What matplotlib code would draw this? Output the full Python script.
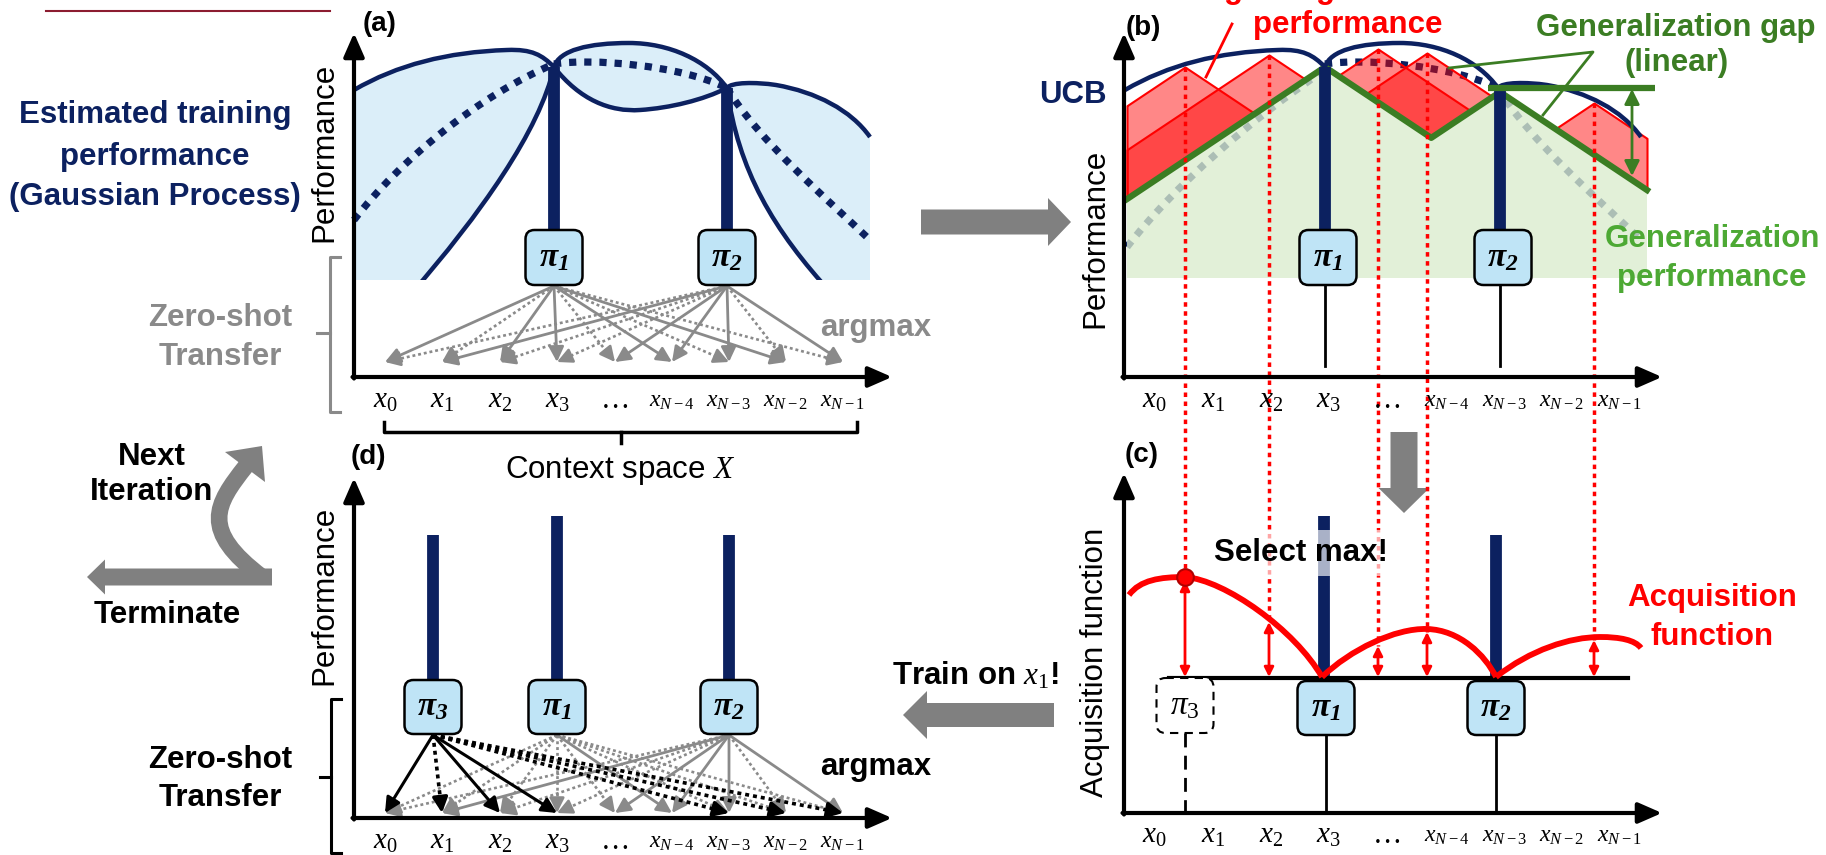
import numpy as np
import matplotlib
matplotlib.use("Agg")
import matplotlib.pyplot as plt
from matplotlib.path import Path
from matplotlib.patches import PathPatch, FancyBboxPatch, Rectangle, Polygon

plt.rcParams['font.family'] = ['Liberation Sans', 'DejaVu Sans']
plt.rcParams['mathtext.fontset'] = 'custom'
plt.rcParams['mathtext.rm'] = 'Liberation Serif'
plt.rcParams['mathtext.it'] = 'Liberation Serif:italic'
plt.rcParams['mathtext.bf'] = 'Liberation Serif:bold:italic'

NAVY = '#0c2160'
BLUEFILL = '#dbeef9'
BOXC = '#bfe4f6'
GRAY = '#8a8a8a'
BIGGRAY = '#808080'
GREEN = '#3b7d23'
LGREEN = '#4da934'
RED = '#ff0000'
FS = 22.5

# ---- data (pixel units of the 1826x855 canvas) ----
ctx_labels = [r'$x_0$', r'$x_1$', r'$x_2$', r'$x_3$', '…',
              r'$x_{N-4}$', r'$x_{N-3}$', r'$x_{N-2}$', r'$x_{N-1}$']
ctx_x_left = [385, 442, 500, 557, 615, 672, 729, 786, 843]
ctx_x_right = [1154, 1213, 1271, 1328, 1387, 1447, 1505, 1562, 1620]

# GP of panel (a): upper bound, lower bound and mean (bezier control points)
ucb_1 = [(354, 90), (397, 65), (447, 52), (507, 50), (532, 49), (542, 55), (554, 67)]
ucb_2 = [(554, 67), (559, 50), (589, 43), (629, 43), (669, 43), (707, 60), (727, 88)]
ucb_3 = [(727, 88), (731, 82), (756, 82), (776, 85), (816, 92), (851, 110), (870, 137)]
lcb_1 = [(554, 67), (540, 130), (480, 215), (410, 295)]
lcb_2 = [(554, 67), (580, 100), (610, 112), (640, 110), (670, 108), (703, 100), (727, 88)]
lcb_3 = [(727, 88), (738, 170), (773, 230), (833, 295)]
mean_1 = [(354, 220), (400, 160), (480, 95), (554, 64)]
mean_2 = [(554, 64), (590, 58), (680, 65), (727, 88)]
mean_3 = [(727, 88), (758, 140), (828, 200), (870, 240)]
mean_1b = [(1127, 247), (1175, 185), (1250, 120), (1325, 70)]
b_shift = 771

pi_x_a = [554, 727]
pi_top_a = [67, 88]
solid_a = [[0, 2, 3, 5, 7], [1, 4, 5, 6, 8]]
dotted_a = [[1, 4, 6, 8], [0, 2, 3, 7]]

# panel (b): generalization lower bound and estimated cones
gen_peaks_x = [1325, 1500]
gen_peaks_y = [67, 92]
lip = 0.667
cone_x = [1185, 1269, 1378, 1427, 1594]
cone_y = [67, 55, 49, 53, 103]

# panel (c): acquisition function
acq_1 = [(1129, 595), (1140, 580), (1160, 577), (1185, 577), (1225, 580), (1295, 630), (1322, 677)]
acq_2 = [(1322, 677), (1350, 650), (1395, 628), (1427, 629), (1460, 630), (1485, 655), (1496, 677)]
acq_3 = [(1496, 677), (1530, 650), (1570, 637), (1600, 637), (1620, 637), (1635, 640), (1641, 648)]
acq_at = [581, 622, 646, 632, 640]
acq_base = 678

# panel (d)
pi_x_d = [433, 557, 729]
pi_top_d = [535, 516, 535]
pi_name_d = ['3', '1', '2']
black_solid_d = [0, 2, 3]
black_dotted_d = [1, 6, 7, 8]
gray_solid_d = [[5], [1, 4, 5, 6, 8]]
gray_dotted_d = [[0, 1, 2, 3, 4, 6, 7, 8], [0, 2, 3, 7]]

fig = plt.figure(figsize=(18.26, 8.55), dpi=100)
ax = fig.add_axes([0, 0, 1, 1])
ax.set_xlim(0, 1826)
ax.set_ylim(855, 0)
ax.axis('off')


def chain(pts, dx=0):
    p = np.array(pts, float) + [dx, 0]
    return Path(p, [Path.MOVETO] + [Path.CURVE4] * (len(p) - 1))


def curve(pts, dx=0, **kw):
    patch = PathPatch(chain(pts, dx), fill=False, **kw)
    ax.add_patch(patch)
    return patch


def region(parts, dx=0):
    verts, codes = [], []
    for kind, pts in parts:
        for i, p in enumerate(pts):
            if not verts:
                codes.append(Path.MOVETO)
            elif kind == 'c' and i > 0:
                codes.append(Path.CURVE4)
            else:
                codes.append(Path.LINETO)
            verts.append((p[0] + dx, p[1]))
    verts.append(verts[0])
    codes.append(Path.CLOSEPOLY)
    return Path(verts, codes)


def axis_arrows(x0, y0, ytop, xright):
    st = dict(arrowstyle='-|>,head_length=0.8,head_width=0.35', color='k', lw=3,
              mutation_scale=18, shrinkA=0, shrinkB=0)
    ax.annotate('', xy=(x0, ytop), xytext=(x0, y0 + 1.5), arrowprops=st, zorder=8)
    ax.annotate('', xy=(xright, y0), xytext=(x0 - 1.5, y0), arrowprops=st, zorder=8)


def transfer(x0, y0, x1, y1, color, lw, dotted, z=5):
    d = np.array([x1 - x0, y1 - y0], float)
    d /= np.hypot(*d)
    st = dict(arrowstyle='-|>,head_length=0.5,head_width=0.25', color=color, lw=lw,
              mutation_scale=18, shrinkA=0, shrinkB=0)
    if dotted:
        bx, by = x1 - d[0] * 10, y1 - d[1] * 10
        ax.plot([x0, bx], [y0, by], color=color, lw=lw, ls=(0, (1.1, 1.1)), zorder=z)
        ax.annotate('', xy=(x1, y1), xytext=(bx - d[0] * 2, by - d[1] * 2), arrowprops=st, zorder=z)
    else:
        ax.annotate('', xy=(x1, y1), xytext=(x0, y0), arrowprops=st, zorder=z)


def box(xc, top, name, dashed=False, h=55):
    if dashed:
        b = FancyBboxPatch((xc - 28.5, top), 57, h, boxstyle='round,pad=0,rounding_size=9',
                           fc='white', ec='k', lw=1.5, ls=(0, (4, 3)), zorder=7)
        ax.add_patch(b)
        ax.text(xc, top + h / 2, r'$\pi_%s$' % name, ha='center', va='center', fontsize=24, zorder=8)
    else:
        b = FancyBboxPatch((xc - 28.5, top), 57, h, boxstyle='round,pad=0,rounding_size=9',
                           fc=BOXC, ec='k', lw=1.8, zorder=7)
        ax.add_patch(b)
        ax.text(xc, top + h / 2, r'$\mathbf{\pi_%s}$' % name, ha='center', va='center', fontsize=24, zorder=8)


def ctx_ticks(xs, y):
    for x, lab in zip(xs, ctx_labels):
        small = 'N' in lab
        ax.text(x, y, lab, ha='center', va='center', fontsize=17 if small else 21,
                family='Liberation Serif', zorder=8)


# ================= panel (a) =================
clip_a = Rectangle((354, 0), 520, 280, transform=ax.transData)
for path in [region([('c', ucb_1), ('c', lcb_1), ('l', [(354, 295)])]),
             region([('c', ucb_2), ('c', lcb_2[::-1])]),
             region([('c', ucb_3), ('l', [(870, 295), (833, 295)]), ('c', lcb_3[::-1])])]:
    p = PathPatch(path, fc=BLUEFILL, ec='none', zorder=1)
    ax.add_patch(p)
    p.set_clip_path(clip_a)
for m in [mean_1, mean_2, mean_3]:
    curve(m, color=NAVY, lw=5.2, ls=(0, (1.0, 1.1)), zorder=3)
for c in [ucb_1, ucb_2, ucb_3]:
    curve(c, color=NAVY, lw=3.2, zorder=4)
for c in [lcb_1, lcb_2, lcb_3]:
    pp = curve(c, color=NAVY, lw=3.2, zorder=4)
    pp.set_clip_path(clip_a)
for i, (px, pt) in enumerate(zip(pi_x_a, pi_top_a)):
    ax.plot([px, px], [pt, 232], color=NAVY, lw=8.5, solid_capstyle='butt', zorder=5)
    box(px, 230, str(i + 1))
for i, px in enumerate(pi_x_a):
    for j in dotted_a[i]:
        transfer(px, 286, ctx_x_left[j], 362, GRAY, 1.9, True)
    for j in solid_a[i]:
        transfer(px, 286, ctx_x_left[j], 362, GRAY, 2.0, False)
axis_arrows(354, 377, 33, 892)
ctx_ticks(ctx_x_left, 401)
ax.text(380, 24, '(a)', ha='center', va='center', fontsize=20, fontweight='bold')
ax.text(324, 152, 'Performance', rotation=90, ha='center', va='center', fontsize=FS)
for txt, y in [('Estimated training', 115), ('performance', 157), ('(Gaussian Process)', 197)]:
    ax.text(155, y, txt, ha='center', va='center', fontsize=FS, fontweight='bold', color=NAVY)
for txt, y in [('Zero-shot', 318), ('Transfer', 357)]:
    ax.text(220, y, txt, ha='center', va='center', fontsize=FS, fontweight='bold', color=GRAY)
ax.text(876, 328, 'argmax', ha='center', va='center', fontsize=FS, fontweight='bold', color=GRAY)
ax.plot([340, 330, 330, 340], [257, 257, 412, 412], color=GRAY, lw=2.2)
ax.plot([317, 330], [333, 333], color=GRAY, lw=2.2)
ax.plot([46, 330], [11, 11], color='#8c1c30', lw=1.5)
# context brace
ax.plot([384, 384, 857, 857], [422, 432, 432, 422], color='k', lw=2.5)
ax.plot([621, 621], [432, 443], color='k', lw=2.5)
ax.text(620, 470, r'Context space $X$', ha='center', va='center', fontsize=FS)

# ================= panel (b) =================
curve(mean_1b, color=NAVY, lw=5.2, ls=(0, (1.0, 1.1)), zorder=1)
for m in [mean_2, mean_3]:
    curve(m, dx=b_shift, color=NAVY, lw=5.2, ls=(0, (1.0, 1.1)), zorder=1)
xg = np.linspace(1127, 1647, 2081)
gen = np.min([y + lip * np.abs(xg - x) for x, y in zip(gen_peaks_x, gen_peaks_y)], axis=0)
ax.fill_between(xg, gen, 278, fc='#daecce', alpha=0.78, lw=0, zorder=2)
for cx, cy in zip(cone_x, cone_y):
    cone = cy + lip * np.abs(xg - cx)
    ax.fill_between(xg, cone, gen, where=cone < gen, interpolate=True,
                    fc=(1, 0, 0, 0.47), ec=RED, lw=1.5, zorder=3)
ax.plot(xg, gen, color=GREEN, lw=4.5, zorder=4)
for i, (px, pt) in enumerate(zip(gen_peaks_x, [67, 90])):
    ax.plot([px, px], [pt, 232], color=NAVY, lw=8.5, solid_capstyle='butt', zorder=5)
    ax.plot([px, px], [284, 366], color='k', lw=2, zorder=5)
    box(px + 3, 230, str(i + 1))
for c in [ucb_1, ucb_2, ucb_3]:
    curve(c, dx=b_shift, color=NAVY, lw=3.2, zorder=6)
# red dotted guides from (b) down to (c)
for cx, cy, ay in zip(cone_x, cone_y, acq_at):
    ax.plot([cx, cx], [cy, ay], color=RED, lw=2.5, ls=(0, (1.3, 1.3)), zorder=6)
axis_arrows(1124, 377, 33, 1662)
ctx_ticks(ctx_x_right, 401)
ax.text(1143, 28, '(b)', ha='center', va='center', fontsize=20, fontweight='bold')
ax.text(1095, 238, 'Performance', rotation=90, ha='center', va='center', fontsize=FS)
ax.text(1073, 95, 'UCB', ha='center', va='center', fontsize=FS, fontweight='bold', color=NAVY)
ax.text(1348, -2, 'Imagined generalization', ha='center', va='baseline', fontsize=FS,
        fontweight='bold', color=RED)
ax.text(1348, 25, 'performance', ha='center', va='center', fontsize=FS, fontweight='bold', color=RED)
ax.plot([1232, 1206], [24, 77], color=RED, lw=2, zorder=7)
ax.text(1676, 28, 'Generalization gap', ha='center', va='center', fontsize=FS,
        fontweight='bold', color=GREEN)
ax.text(1677, 63, '(linear)', ha='center', va='center', fontsize=FS, fontweight='bold', color=GREEN)
ax.plot([1449, 1593, 1543], [68, 52, 115], color=GREEN, lw=2, zorder=7)
ax.plot([1488, 1655], [88, 88], color=GREEN, lw=4.5, solid_capstyle='butt', zorder=7)
ax.annotate('', xy=(1632, 176), xytext=(1632, 89),
            arrowprops=dict(arrowstyle='<|-|>,head_length=0.5,head_width=0.25', color=GREEN,
                            lw=2, mutation_scale=18, shrinkA=0, shrinkB=0), zorder=7)
for txt, y in [('Generalization', 239), ('performance', 278)]:
    ax.text(1712, y, txt, ha='center', va='center', fontsize=FS, fontweight='bold', color=LGREEN)

# ================= panel (c) =================
ax.plot([1169, 1628], [acq_base, acq_base], color='k', lw=3, zorder=5)
ax.plot([1324, 1324], [516, acq_base], color=NAVY, lw=8.5, solid_capstyle='butt', zorder=4)
ax.plot([1496, 1496], [535, acq_base], color=NAVY, lw=8.5, solid_capstyle='butt', zorder=4)
for c in [acq_1, acq_2, acq_3]:
    curve(c, color=RED, lw=4.2, zorder=6)
for cx, ay in zip(cone_x, acq_at):
    ax.annotate('', xy=(cx, ay), xytext=(cx, acq_base - 1),
                arrowprops=dict(arrowstyle='<|-|>,head_length=0.4,head_width=0.2', color=RED,
                                lw=2, mutation_scale=14, shrinkA=0, shrinkB=0), zorder=6)
ax.plot(1185, 577, 'o', ms=12, mfc=RED, mec='#b00000', mew=1.5, zorder=9)
ax.text(1301, 553, 'Select max!', ha='center', va='center', fontsize=FS, fontweight='bold',
        zorder=7, bbox=dict(fc='white', ec='none', alpha=0.65, pad=6))
box(1326, 681, '1', h=54)
box(1496, 681, '2', h=54)
box(1185, 678, '3', dashed=True, h=55)
ax.plot([1326, 1326], [735, 813], color='k', lw=2, zorder=5)
ax.plot([1496, 1496], [735, 813], color='k', lw=2, zorder=5)
ax.plot([1185, 1185], [733, 813], color='k', lw=2, ls=(0, (5, 3)), zorder=5)
axis_arrows(1124, 813, 473, 1662)
ctx_ticks(ctx_x_right, 836)
ax.text(1142, 455, '(c)', ha='center', va='center', fontsize=20, fontweight='bold')
ax.text(1095, 662, 'Acquisition function', rotation=90, ha='center', va='center', fontsize=FS)
for txt, y in [('Acquisition', 598), ('function', 637)]:
    ax.text(1712, y, txt, ha='center', va='center', fontsize=FS, fontweight='bold', color=RED)

# ================= panel (d) =================
for px, pt, nm in zip(pi_x_d, pi_top_d, pi_name_d):
    ax.plot([px, px], [pt, 682], color=NAVY, lw=8.5, solid_capstyle='butt', zorder=5)
    box(px, 680, nm, h=54)
for k, px in enumerate(pi_x_d[1:]):
    for j in gray_dotted_d[k]:
        transfer(px, 735, ctx_x_left[j], 813, GRAY, 1.9, True)
    for j in gray_solid_d[k]:
        transfer(px, 735, ctx_x_left[j], 813, GRAY, 2.0, False)
for j in black_dotted_d:
    transfer(pi_x_d[0], 735, ctx_x_left[j], 813, 'k', 2.6, True, z=6)
for j in black_solid_d:
    transfer(pi_x_d[0], 735, ctx_x_left[j], 813, 'k', 2.2, False, z=6)
axis_arrows(354, 818, 478, 892)
ctx_ticks(ctx_x_left, 842)
ax.text(368, 457, '(d)', ha='center', va='center', fontsize=20, fontweight='bold')
ax.text(324, 595, 'Performance', rotation=90, ha='center', va='center', fontsize=FS)
for txt, y in [('Zero-shot', 760), ('Transfer', 798)]:
    ax.text(220, y, txt, ha='center', va='center', fontsize=FS, fontweight='bold')
ax.text(876, 767, 'argmax', ha='center', va='center', fontsize=FS, fontweight='bold')
ax.plot([341, 331, 331, 341], [699, 699, 853, 853], color='k', lw=2.2)
ax.plot([320, 331], [777, 777], color='k', lw=2.2)

# ================= flow arrows =================
ax.arrow(921, 222, 150, 0, width=25, head_width=48, head_length=23,
         length_includes_head=True, color=BIGGRAY, lw=0, zorder=2)
ax.arrow(1404, 432, 0, 81, width=27, head_width=51, head_length=25,
         length_includes_head=True, color=BIGGRAY, lw=0, zorder=2)
ax.arrow(1054, 715, -151, 0, width=24, head_width=48, head_length=24,
         length_includes_head=True, color=BIGGRAY, lw=0, zorder=2)
ax.text(975, 676, r'Train on $x_1$!', ha='center', va='center', fontsize=FS, fontweight='bold')
ax.arrow(272, 577, -185, 0, width=17, head_width=35, head_length=18,
         length_includes_head=True, color=BIGGRAY, lw=0, zorder=2)
s_curve = [(262, 577), (200, 530), (215, 505), (246, 466)]
curve(s_curve, color=BIGGRAY, lw=12, capstyle='butt', zorder=2)
ax.add_patch(Polygon([(225, 452), (262, 446), (265, 482)], closed=True, fc=BIGGRAY, ec='none', zorder=2))
for txt, y in [('Next', 457), ('Iteration', 492)]:
    ax.text(152, y, txt, ha='center', va='center', fontsize=FS, fontweight='bold')
ax.text(167, 615, 'Terminate', ha='center', va='center', fontsize=FS, fontweight='bold')

fig.savefig('out.png', dpi=100)
